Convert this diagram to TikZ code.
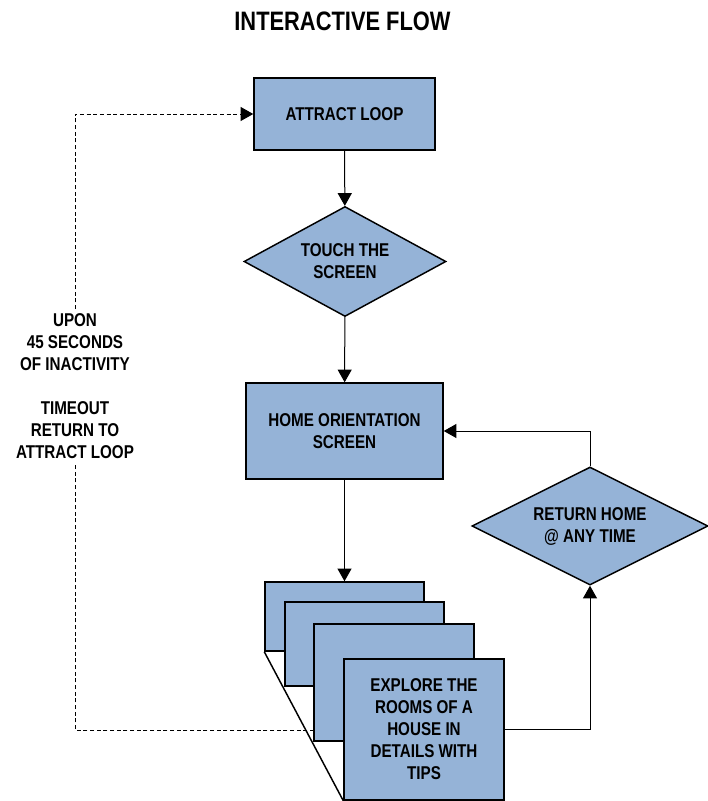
\documentclass[tikz,border=0pt]{standalone}
\usepackage{fontspec}
\setmainfont{Liberation Sans}[FakeStretch=0.82]
\usepackage{tikz}
\usetikzlibrary{shapes.geometric,arrows.meta}

\definecolor{flowblue}{RGB}{149,179,215}
\newcommand{\flowfont}{\bfseries\fontsize{13.9}{16.5}\selectfont}

\begin{document}
\begin{tikzpicture}[x=0.75pt,y=-0.75pt,
	flowbox/.style={shape=rectangle,draw=black,line width=1.1pt,fill=flowblue,inner sep=0pt,align=center,font=\flowfont},
	flowdec/.style={shape=diamond,draw=black,line width=1.1pt,fill=flowblue,inner sep=0pt,align=center,font=\flowfont},
	flowarrow/.style={line width=0.75pt,-{Triangle[length=9.5pt,width=10.5pt]}},
	flowdash/.style={flowarrow,dash pattern=on 3pt off 2pt}]
	
	\useasboundingbox (0,0) rectangle (708,801);
	
	\node[font=\bfseries\fontsize{20}{24}\selectfont] (title) at (342.5, 21) {INTERACTIVE FLOW};
	
	\node[flowbox,minimum width=135.75pt,minimum height=54pt] (atl) at (344.5, 114) {ATTRACT LOOP};
	\node[flowdec,shape aspect=1.84,minimum width=151.5pt,minimum height=82.5pt] (tch) at (345, 261.5) {TOUCH THE\\SCREEN};
	\node[flowbox,minimum width=147.75pt,minimum height=72pt] (home) at (344.5, 431) {HOME ORIENTATION\\SCREEN};
	\node[flowdec,shape aspect=2,minimum width=177pt,minimum height=88.5pt] (rth) at (590, 526) {RETURN HOME\\@ ANY TIME};
	
	% stack of pages
	\node[flowbox,minimum width=119.25pt,minimum height=51.75pt] (pg1) at (344.5, 616.5) {};
	\node[flowbox,minimum width=119.25pt,minimum height=63pt] (pg2) at (364.5, 644) {};
	\node[flowbox,minimum width=120pt,minimum height=87.75pt] (pg3) at (394, 682.5) {};
	\node[flowbox,minimum width=120pt,minimum height=105.75pt] (pg4) at (424, 729.5) {EXPLORE THE\\ROOMS OF A\\HOUSE IN\\DETAILS WITH\\TIPS};
	\draw[line width=1.1pt] (pg1.south west) -- (pg4.south west);
	
	\path[flowarrow] (atl) edge (tch);
	\path[flowarrow] (tch) edge (home);
	\path[flowarrow] (home) edge (pg1);
	\draw[flowarrow] (pg4.east) -| (rth.south);
	\draw[flowarrow] (rth.north) |- (home.east);
	
	% timeout back to the attract loop
	\coordinate (tout) at (314, 730);
	\coordinate (lft) at (75, 386.5);
	\draw[flowdash] (tout) -| (lft) |- (atl.west);
	\node[fill=white,inner sep=3pt,align=center,font=\flowfont] (lbl) at (lft)
		{UPON\\45 SECONDS\\OF INACTIVITY\\[16.5pt]TIMEOUT\\RETURN TO\\ATTRACT LOOP};

\end{tikzpicture}
\end{document}
